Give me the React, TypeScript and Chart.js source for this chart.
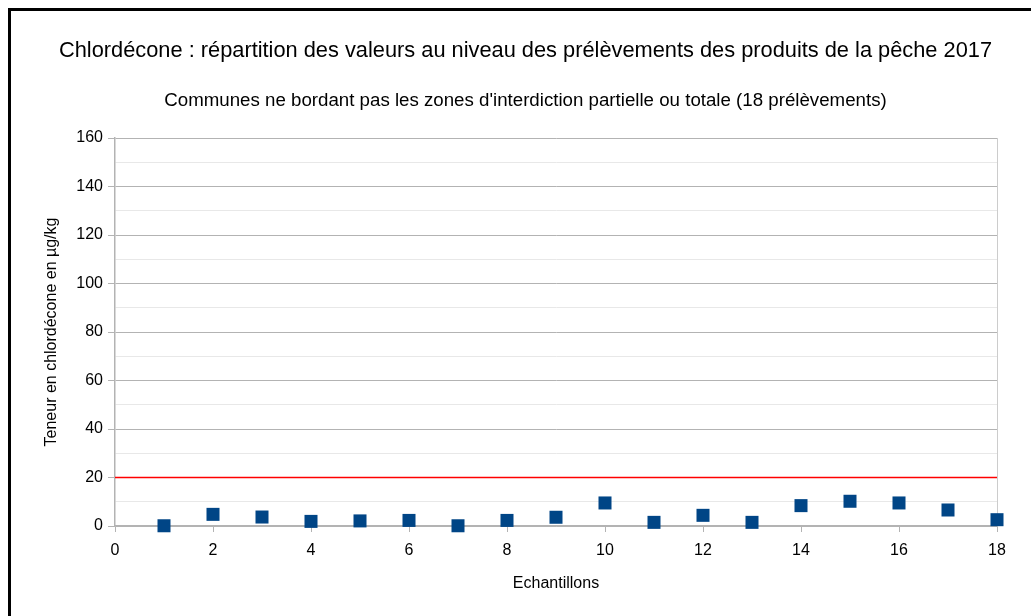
import React, { useEffect, useRef } from "react";
import { Chart, registerables } from "chart.js";

Chart.register(...registerables);

const titleText =
  "Chlordécone : répartition des valeurs au niveau des prélèvements des produits de la pêche 2017";
const subtitleText =
  "Communes ne bordant pas les zones d'interdiction partielle ou totale (18 prélèvements)";
const xAxisTitle = "Echantillons";
const yAxisTitle = "Teneur en chlordécone en µg/kg";

const sampleIds = [1, 2, 3, 4, 5, 6, 7, 8, 9, 10, 11, 12, 13, 14, 15, 16, 17, 18];
const teneurs = [0.1, 4.8, 3.7, 1.9, 2.1, 2.3, 0.1, 2.3, 3.6, 9.5, 1.5, 4.4, 1.5, 8.4, 10.2, 9.5, 6.6, 2.6];

const limitX = [0, 18];
const limitY = [20, 20];

const FONT = "'Liberation Sans', Arial, sans-serif";

const framePlugin = {
  id: "frame",
  beforeDraw(chart: any) {
    const ctx = chart.ctx;
    ctx.save();
    ctx.fillStyle = "#000000";
    ctx.fillRect(8, 8, 3, chart.height - 8);
    ctx.fillRect(8, 8, chart.width - 8, 3);
    ctx.restore();
  },
};

export default function App() {
  const canvasRef = useRef<HTMLCanvasElement | null>(null);

  useEffect(() => {
    if (!canvasRef.current) return;
    Chart.defaults.font.family = FONT;
    Chart.defaults.color = "#000000";

    const points = sampleIds.map((x, i) => ({ x, y: teneurs[i] }));
    const limit = limitX.map((x, i) => ({ x, y: limitY[i] }));

    const chart = new Chart(canvasRef.current, {
      type: "scatter",
      data: {
        datasets: [
          {
            label: "Teneur",
            data: points,
            pointStyle: "rect",
            pointRadius: 9.2,
            pointHoverRadius: 9.2,
            backgroundColor: "#004586",
            borderColor: "#004586",
            borderWidth: 0,
            clip: false,
          } as any,
          {
            type: "line",
            label: "Limite",
            data: limit,
            borderColor: "#ff0000",
            borderWidth: 1.5,
            pointRadius: 0,
            showLine: true,
            fill: false,
          } as any,
        ],
      },
      options: {
        responsive: false,
        animation: false,
        layout: { padding: { left: 20, right: 0, top: 0, bottom: 0 } },
        plugins: {
          legend: { display: false },
          tooltip: { enabled: false },
          title: {
            display: true,
            text: titleText,
            color: "#000000",
            font: { size: 21.8, weight: "normal", family: FONT },
            padding: { top: 38, bottom: 13 },
          },
          subtitle: {
            display: true,
            text: subtitleText,
            color: "#000000",
            font: { size: 18.7, weight: "normal", family: FONT },
            padding: { top: 12.5, bottom: 25.9 },
          },
        },
        scales: {
          x: {
            type: "linear",
            min: 0,
            max: 18,
            afterFit: (s: any) => {
              s.height = 90;
            },
            ticks: {
              stepSize: 2,
              padding: 9,
              color: "#000000",
              font: { size: 16, family: FONT },
            },
            grid: {
              drawTicks: true,
              tickLength: 6,
              color: (ctx: any) =>
                ctx.tick && ctx.tick.value === 18 ? "#cccccc" : "rgba(0,0,0,0)",
              tickColor: "#b3b3b3",
            },
            border: { display: true, color: "#b3b3b3", width: 1.5 },
            title: {
              display: true,
              text: xAxisTitle,
              color: "#000000",
              font: { size: 16, family: FONT },
              padding: { top: 0, bottom: 23 },
            },
          },
          y: {
            type: "linear",
            position: "left",
            min: 0,
            max: 160,
            afterFit: (s: any) => {
              s.width = 95;
            },
            ticks: {
              stepSize: 10,
              padding: 5,
              color: "#000000",
              font: { size: 16, family: FONT },
              callback: (v: any) => (Number(v) % 20 === 0 ? String(v) : ""),
            },
            grid: {
              drawTicks: true,
              tickLength: 7,
              color: (ctx: any) =>
                ctx.tick && ctx.tick.value % 20 === 0 ? "#b3b3b3" : "#e8e8e8",
              tickColor: (ctx: any) =>
                ctx.tick && ctx.tick.value % 20 === 0 ? "#b3b3b3" : "rgba(0,0,0,0)",
            },
            border: { display: true, color: "#b3b3b3", width: 1.5 },
            title: {
              display: true,
              text: yAxisTitle,
              color: "#000000",
              font: { size: 16, family: FONT },
              padding: { top: 22, bottom: 0 },
            },
          },
          y2: {
            type: "linear",
            position: "right",
            display: true,
            afterFit: (s: any) => {
              s.width = 34;
            },
            ticks: { display: false },
            grid: { display: false, drawTicks: false },
            border: { display: false },
          },
        },
      },
      plugins: [framePlugin],
    } as any);

    return () => chart.destroy();
  }, []);

  return (
    <div style={{ position: "fixed", left: 0, top: 0, width: 1031, height: 616 }}>
      <canvas ref={canvasRef} width={1031} height={616} style={{ display: "block" }} />
    </div>
  );
}
